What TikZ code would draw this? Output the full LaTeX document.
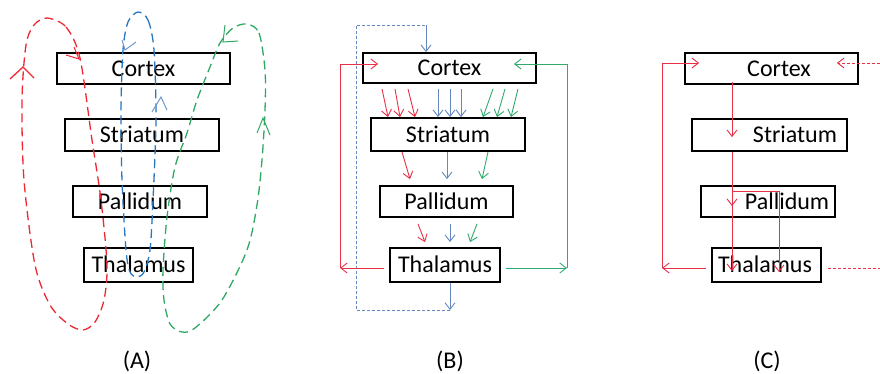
\documentclass[tikz,border=0pt]{standalone}
\usepackage{fontspec}
\setmainfont{Carlito}
\usetikzlibrary{arrows.meta}
\definecolor{redA}{RGB}{236,40,52}
\definecolor{blueA}{RGB}{40,118,192}
\definecolor{blueAl}{RGB}{110,150,205}
\definecolor{greenA}{RGB}{48,168,100}
\definecolor{redB}{RGB}{232,48,70}
\definecolor{blueB}{RGB}{100,135,190}
\definecolor{greenB}{RGB}{50,170,110}
\tikzset{
  box/.style={draw=black, line width=1.8pt, rectangle, inner sep=0pt,
    font=\fontsize{24pt}{28pt}\selectfont, text height=15.5pt, text depth=0pt},
  lbl/.style={font=\fontsize{24pt}{28pt}\selectfont, inner sep=0pt},
  ar/.style={line width=0.9pt, -{Straight Barb[length=6.5pt,width=10pt]}},
  loopline/.style={line width=1.3pt, dash pattern=on 9pt off 5pt},
  chev/.style={line width=1pt},
  fine dash/.style={line width=0.7pt, dash pattern=on 3pt off 2pt},
}
\begin{document}
\begin{tikzpicture}[x=1pt,y=-1pt]
\useasboundingbox (0,0) rectangle (880,373);

% ---------------- Panel A ----------------
\node[box, minimum width=173pt, minimum height=31pt] (aC) at (143.5,68.5) {Cortex};
\node[box, minimum width=154pt, minimum height=32pt] (aS) at (142,135) {Striatum};
\node[box, minimum width=134pt, minimum height=31pt] (aP) at (140,201.5) {Pallidum};
\node[box, minimum width=109pt, minimum height=34pt] (aT) at (138.5,265) {Thalamus};

\draw[redA, loopline] plot[smooth cycle] coordinates {
  (47,18) (66,27) (80,58) (92,140) (101,200) (107,265) (104,300) (95,322)
  (83,330) (68,324) (50,305) (35,265) (24,180) (22,100) (26,45) (34,25)};
\draw[blueA, loopline] plot[smooth cycle] coordinates {
  (138,12) (148,20) (154,50) (156,120) (153,200) (150,250) (144,272) (137,277)
  (130,272) (126,250) (122,180) (121,110) (123,50) (128,22)};
\draw[greenA, loopline] plot[smooth cycle] coordinates {
  (247,24) (259,33) (265,70) (265,110) (262,160) (257,205) (247,250) (222,300)
  (195,328) (182,332) (170,324) (164,300) (163,270) (167,217) (175,167)
  (187,133) (197,100) (210,67) (220,43) (233,28)};

\draw[redA, chev, line width=1.3pt] (10,79) -- (23,67) -- (34,78);
\draw[redA, chev] (66,55) -- (79,59) -- (74,47);
\draw[blueAl, chev] (122,40) -- (125,50) -- (136,42);
\draw[blueAl, chev] (152,112) -- (161,97) -- (167,110);
\draw[greenA, chev] (225,25) -- (223,42) -- (238,41);
\draw[greenA, chev] (257,133) -- (263,118) -- (270,135);

\node[lbl] (labA) at (137,361) {(A)};

% ---------------- Panel B ----------------
\node[box, minimum width=173pt, minimum height=30pt] (bC) at (449.5,68) {Cortex};
\node[box, minimum width=154pt, minimum height=33pt] (bS) at (448,134.5) {Striatum};
\node[box, minimum width=133pt, minimum height=31pt] (bP) at (446.5,201.5) {Pallidum};
\node[box, minimum width=110pt, minimum height=34pt] (bT) at (445,265) {Thalamus};

% Cortex -> Striatum
\draw[ar, redB] ([xshift=-67.5pt,yshift=-5pt]bC.south) -- ([xshift=-60pt]bS.north);
\draw[ar, redB] ([xshift=-54.5pt,yshift=-5pt]bC.south) -- ([xshift=-48pt]bS.north);
\draw[ar, redB] ([xshift=-41.5pt,yshift=-5pt]bC.south) -- ([xshift=-33pt]bS.north);
\draw[ar, blueB] ([xshift=-11.5pt,yshift=-5pt]bC.south) -- ([xshift=-10pt]bS.north);
\draw[ar, blueB] ([xshift=0.5pt,yshift=-5pt]bC.south) -- ([xshift=2pt]bS.north);
\draw[ar, blueB] ([xshift=11.5pt,yshift=-5pt]bC.south) -- ([xshift=13pt]bS.north);
\draw[ar, greenB] ([xshift=43.5pt,yshift=-5pt]bC.south) -- ([xshift=35pt]bS.north);
\draw[ar, greenB] ([xshift=55.5pt,yshift=-5pt]bC.south) -- ([xshift=49pt]bS.north);
\draw[ar, greenB] ([xshift=68.5pt,yshift=-5pt]bC.south) -- ([xshift=63pt]bS.north);
% Striatum -> Pallidum
\draw[ar, redB] ([xshift=-46pt]bS.south) -- ([xshift=-36.5pt,yshift=6pt]bP.north);
\draw[ar, blueB] ([xshift=-1pt]bS.south) -- ([xshift=0.5pt,yshift=6pt]bP.north);
\draw[ar, greenB] ([xshift=40pt]bS.south) -- ([xshift=35.5pt,yshift=6pt]bP.north);
% Pallidum -> Thalamus
\draw[ar, redB] ([xshift=-28.5pt,yshift=-6pt]bP.south) -- ([xshift=-20pt,yshift=5pt]bT.north);
\draw[ar, blueB] ([xshift=3.5pt,yshift=-6pt]bP.south) -- ([xshift=5pt,yshift=5pt]bT.north);
\draw[ar, greenB] ([xshift=30.5pt,yshift=-6pt]bP.south) -- ([xshift=25pt,yshift=5pt]bT.north);
% blue outer loop
\coordinate (bBot) at (450,310);
\coordinate (bTopL) at (356,25);
\coordinate (bTopR) at (426,25);
\draw[ar, blueB] ([xshift=5pt]bT.south) -- (bBot);
\draw[blueB, fine dash] (bBot) -| (bTopL) -- (bTopR);
\draw[ar, blueB] (bTopR) -- ([xshift=-23.5pt]bC.north);
% red and green feedback
\coordinate (bRL) at (340,268);
\coordinate (bGR) at (567,268);
\draw[ar, redB] ([xshift=-5pt,yshift=-3pt]bT.west) -- (bRL);
\draw[ar, redB] (bRL) |- ([xshift=16pt,yshift=4pt]bC.west);
\draw[ar, greenB] ([xshift=5pt,yshift=-3pt]bT.east) -- (bGR);
\draw[ar, greenB] (bGR) |- ([xshift=-23pt,yshift=4pt]bC.east);

\node[lbl] (labB) at (450,361) {(B)};

% ---------------- Panel C ----------------
\node[box, minimum width=173pt, minimum height=31pt] (cC) at (771.5,68.5) {};
\node[box, minimum width=155pt, minimum height=32pt] (cS) at (769.5,135) {};
\node[box, minimum width=134pt, minimum height=31pt] (cP) at (768,201.5) {};
\node[box, minimum width=109pt, minimum height=34pt] (cT) at (766.5,265) {};
\node[lbl, text height=15.5pt, text depth=0pt] (cCt) at (779,68.5) {Cortex};
\node[lbl, text height=15.5pt, text depth=0pt] (cSt) at (795,135) {Striatum};
\node[lbl, text height=15.5pt, text depth=0pt] (cPt) at (787,201.5) {Pallidum};
\node[lbl, text height=15.5pt, text depth=0pt] (cTt) at (765,265) {Thalamus};

\coordinate (cBr) at (732,191);
\draw[ar, redB] ([xshift=-39.5pt,yshift=3pt]cC.south) -- ([xshift=-37.5pt,yshift=-19pt]cS.north);
\draw[ar, redB] ([xshift=-37.5pt]cS.south) -- ([xshift=-36pt,yshift=-21pt]cP.north);
\draw[ar, redB] (cBr) -- ([xshift=-34.5pt,yshift=-24pt]cT.north);
\draw[ar, redB] (cBr) -| ([xshift=12.5pt,yshift=-25pt]cT.north);

\coordinate (cRL) at (662,268);
\draw[ar, redB] ([xshift=-5pt,yshift=-3pt]cT.west) -- (cRL);
\draw[ar, redB] (cRL) |- ([xshift=15pt,yshift=5.5pt]cC.west);

\coordinate (cRT) at (880,63);
\coordinate (cRB) at (880,268);
\draw[ar, redB, fine dash, line width=0.9pt] (cRT) -- ([xshift=-22pt,yshift=5.5pt]cC.east);
\draw[redB, fine dash, line width=0.9pt] ([xshift=6pt,yshift=-3pt]cT.east) -- (cRB);

\node[lbl] (labC) at (767,361) {(C)};
\end{tikzpicture}
\end{document}
